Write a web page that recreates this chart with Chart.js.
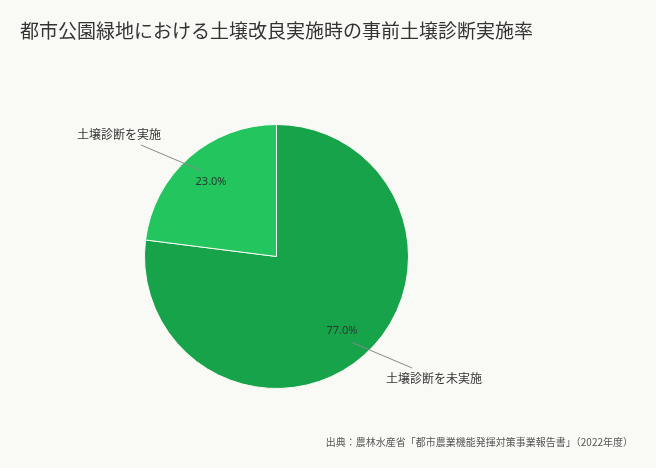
<!DOCTYPE html>
<html lang="ja">
  <head>
    <meta charset="UTF-8" />
    <title>土壌診断実施率</title>
    <script src="https://cdn.jsdelivr.net/npm/chart.js"></script>
    <style>
      html, body { margin: 0; padding: 0; background: #f9f9f5; }
      #wrap { position: relative; width: 656px; height: 468px; font-family: "Noto Sans CJK JP", "Noto Sans", sans-serif; }
      #title { position: absolute; left: 20px; top: 16px; font-size: 19px; color: #333; }
      #source { position: absolute; right: 23px; top: 434px; font-size: 10px; color: #555; }
    </style>
  </head>
  <body>
    <div id="wrap">
      <canvas id="chart"></canvas>
      <div id="title">都市公園緑地における土壌改良実施時の事前土壌診断実施率</div>
      <div id="source">出典：農林水産省「都市農業機能発揮対策事業報告書」（2022年度）</div>
    </div>
    <script>
      const labels = ["土壌診断を未実施", "土壌診断を実施"];
      const values = [77.0, 23.0];
      const colors = ["#17a34a", "#22c55e"];

      // labels with leader lines, drawn from the arc geometry
      const outLabels = {
        id: "outLabels",
        afterDatasetsDraw(chart) {
          const ctx = chart.ctx;
          const arcs = chart.getDatasetMeta(0).data;
          ctx.save();
          arcs.forEach((arc, i) => {
            const r = arc.outerRadius;
            const mid = (arc.startAngle + arc.endAngle) / 2;
            const cx = arc.x, cy = arc.y;
            // percentage inside
            ctx.fillStyle = "#2a3a30";
            ctx.font = "11px 'Noto Sans', sans-serif";
            ctx.textAlign = "center";
            ctx.textBaseline = "middle";
            ctx.fillText(values[i].toFixed(1) + "%", cx + Math.cos(mid) * r * 0.75, cy + Math.sin(mid) * r * 0.75);
            // leader line
            const sx = Math.cos(mid) >= 0 ? 1 : -1;
            const sy = Math.sin(mid) >= 0 ? 1 : -1;
            const bent = mid - sx * sy * 0.16;
            const x0 = cx + Math.cos(mid) * r * 0.87, y0 = cy + Math.sin(mid) * r * 0.87;
            const x1 = cx + Math.cos(bent) * r * 1.33, y1 = cy + Math.sin(bent) * r * 1.33;
            ctx.strokeStyle = "#888";
            ctx.lineWidth = 1;
            ctx.beginPath();
            ctx.moveTo(x0, y0);
            ctx.lineTo(x1, y1);
            ctx.stroke();
            ctx.fillStyle = "#333";
            ctx.font = "12px 'Noto Sans CJK JP', sans-serif";
            ctx.fillText(labels[i], x1 + sx * 22, y1 + sy * 10.5);
          });
          ctx.restore();
        },
      };

      new Chart(document.getElementById("chart"), {
        type: "pie",
        data: {
          labels: labels,
          datasets: [
            {
              data: values,
              backgroundColor: colors,
              borderColor: "#f9f9f5",
              borderWidth: 1,
            },
          ],
        },
        options: {
          responsive: true,
          maintainAspectRatio: false,
          animation: false,
          layout: { padding: { left: 144, top: 124, right: 247, bottom: 79 } },
          plugins: {
            legend: { display: false },
            tooltip: { enabled: false },
          },
        },
        plugins: [outLabels],
      });
    </script>
  </body>
</html>
